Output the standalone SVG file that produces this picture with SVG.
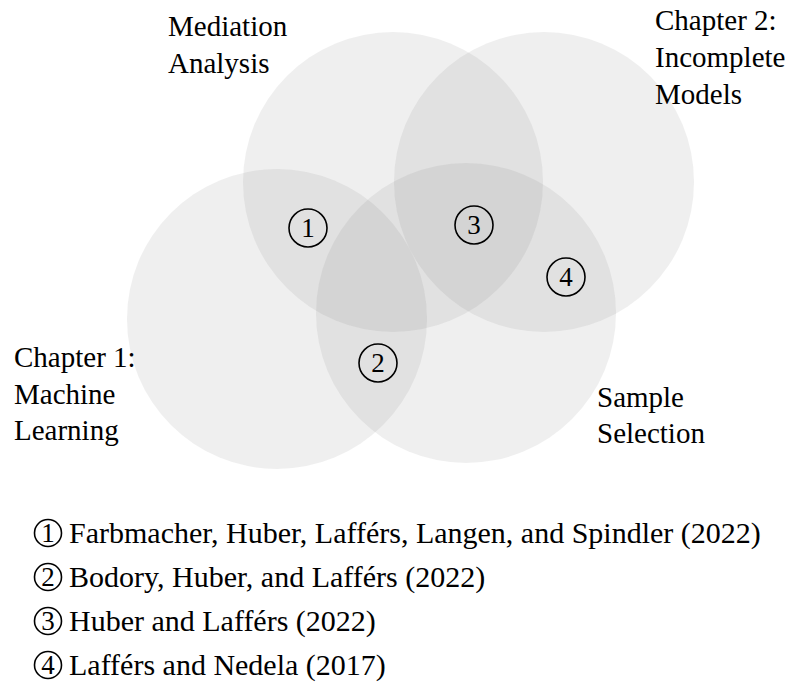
<svg xmlns="http://www.w3.org/2000/svg" width="790" height="690" viewBox="0 0 790 690">
<style>
.set{fill:#808080;fill-opacity:0.13;stroke:none}
.lbl{font-family:"Liberation Serif","Times New Roman",serif;font-size:29px;fill:#000}
.num{fill:none;stroke:#000;stroke-width:1.6}
.dig{font-family:"Liberation Serif","Times New Roman",serif;font-size:27px;fill:#000;text-anchor:middle}
.ldig{font-family:"Liberation Serif","Times New Roman",serif;font-size:27px;fill:#000;text-anchor:middle}
.leg{font-family:"Liberation Serif","Times New Roman",serif;font-size:30px;fill:#000}
</style>
<rect width="790" height="690" fill="#fff"/>
<g id="set-mediation"><circle class="set" cx="393" cy="182" r="150"/><text class="lbl" x="168" y="36">Mediation</text><text class="lbl" x="168" y="73">Analysis</text></g>
<g id="set-chapter2"><circle class="set" cx="544" cy="182" r="150"/><text class="lbl" x="655" y="30">Chapter 2:</text><text class="lbl" x="655" y="67">Incomplete</text><text class="lbl" x="655" y="104">Models</text></g>
<g id="set-chapter1"><circle class="set" cx="277" cy="319" r="150"/><text class="lbl" x="14" y="367">Chapter 1:</text><text class="lbl" x="14" y="404">Machine</text><text class="lbl" x="14" y="440">Learning</text></g>
<g id="set-sample"><circle class="set" cx="466" cy="313" r="150"/><text class="lbl" x="597" y="407">Sample</text><text class="lbl" x="597" y="443">Selection</text></g>
<g id="mark-1"><circle class="num" cx="308" cy="228" r="19"/><text class="dig" x="308" y="237">1</text></g>
<g id="mark-2"><circle class="num" cx="378" cy="363" r="19"/><text class="dig" x="378" y="372">2</text></g>
<g id="mark-3"><circle class="num" cx="474" cy="225" r="19"/><text class="dig" x="474" y="234">3</text></g>
<g id="mark-4"><circle class="num" cx="566" cy="277" r="19"/><text class="dig" x="566" y="286">4</text></g>
<g id="legend">
<g id="legend-1"><circle class="num" cx="48" cy="533" r="13.5"/><text class="ldig" x="48" y="542">1</text><text class="leg" x="69" y="543">Farbmacher, Huber, Lafférs, Langen, and Spindler (2022)</text></g>
<g id="legend-2"><circle class="num" cx="48" cy="577" r="13.5"/><text class="ldig" x="48" y="586">2</text><text class="leg" x="69" y="587">Bodory, Huber, and Lafférs (2022)</text></g>
<g id="legend-3"><circle class="num" cx="48" cy="621" r="13.5"/><text class="ldig" x="48" y="630">3</text><text class="leg" x="69" y="631">Huber and Lafférs (2022)</text></g>
<g id="legend-4"><circle class="num" cx="48" cy="665" r="13.5"/><text class="ldig" x="48" y="674">4</text><text class="leg" x="69" y="675">Lafférs and Nedela (2017)</text></g>
</g>
<g id="connectors"/>
</svg>
